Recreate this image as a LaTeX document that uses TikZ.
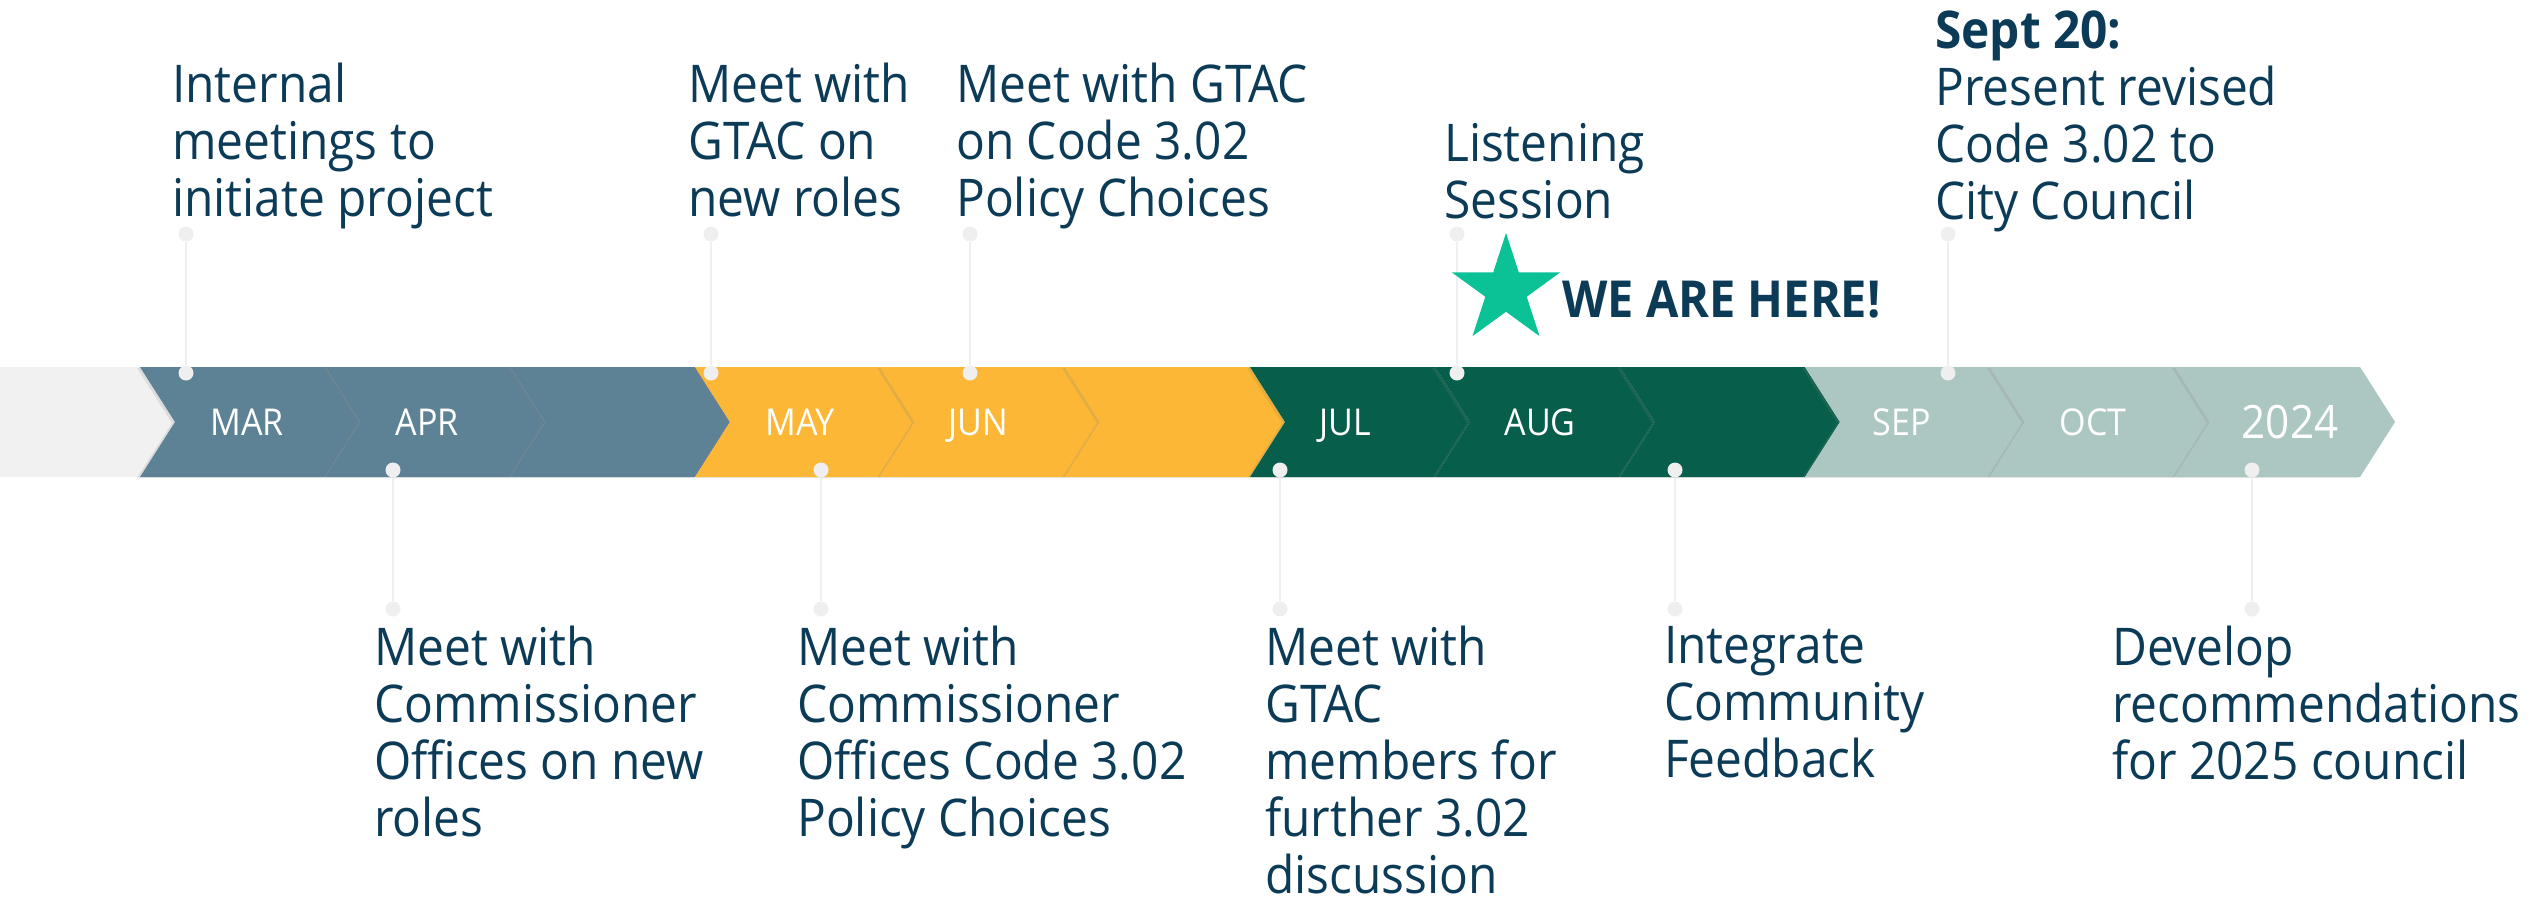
\documentclass[tikz,border=0pt]{standalone}
\usepackage{fontspec}
\setmainfont{Open Sans}[FakeStretch=0.92]
\usepackage{xcolor}
\usepackage{tikz}
\usetikzlibrary{shapes.geometric,shadows}

\definecolor{navy}{HTML}{0B3B57}
\definecolor{slate}{HTML}{5E8295}
\definecolor{amber}{HTML}{FBB735}
\definecolor{pine}{HTML}{065E4B}
\definecolor{sage}{HTML}{ACC6C2}
\definecolor{paper}{HTML}{F1F1F1}
\definecolor{stemgray}{HTML}{EFEFEF}
\definecolor{mint}{HTML}{0BC196}

\begin{document}
\begin{tikzpicture}[
  x=1pt, y=-1pt,
  chev/.style={drop shadow={shadow xshift=-3pt, shadow yshift=-1pt, opacity=.18}},
  month/.style={text=white, inner sep=0pt, text depth=0pt, font=\fontsize{37}{42}\selectfont},
  evt/.style={anchor=north west, align=left, inner sep=0pt, text=navy,
              font=\fontsize{52}{57}\selectfont},
  dot/.style={circle, fill=stemgray, inner sep=0pt, minimum size=15pt},
  stem/.style={draw=stemgray, line width=2.6pt},
]
  \useasboundingbox (0,0) rectangle (2534,900);

  % ---------------- chevron band ----------------
  \fill[paper] (0,367) -- (140,367) -- (175,422) -- (140,477) -- (0,477) -- cycle;
  \foreach \i/\col in {0/slate,1/slate,2/slate,3/amber,4/amber,5/amber,
                       6/pine,7/pine,8/pine,9/sage,10/sage,11/sage}{
    \pgfmathsetmacro\xa{140+185*\i}
    \fill[\col, chev] (\xa,367) -- ++(185,0) -- ++(35,55) -- ++(-35,55)
      -- ++(-185,0) -- ++(35,-55) -- cycle;
  }
  \node[month] (mar) at (247,422) {MAR};
  \node[month] (apr) at (427,422) {APR};
  \node[month] (may) at (800,422) {MAY};
  \node[month] (jun) at (978,422) {JUN};
  \node[month] (jul) at (1345,422) {JUL};
  \node[month] (aug) at (1540,422) {AUG};
  \node[month] (sep) at (1902,422) {SEP};
  \node[month] (oct) at (2093,422) {OCT};
  \node[month, font=\fontsize{46}{50}\selectfont] (yr) at (2290,422) {2024};

  % ---------------- stems above the band ----------------
  \foreach \n/\x in {a/186,b/711,c/970,d/1457,e/1948}{
    \node[dot] (up\n) at (\x,234) {};
    \node[dot] (upband\n) at (\x,373) {};
    \draw[stem] (up\n) -- (upband\n);
  }
  % ---------------- stems below the band ----------------
  \foreach \n/\x in {a/393,b/821,c/1280,d/1675,e/2252}{
    \node[dot] (lowband\n) at (\x,470) {};
    \node[dot] (low\n) at (\x,609) {};
    \draw[stem] (lowband\n) -- (low\n);
  }

  % ---------------- events ----------------
  \node[evt] (internal) at (172,63) {Internal\\meetings to\\initiate project};
  \node[evt] (gtacroles) at (688,63) {Meet with\\GTAC on\\new roles};
  \node[evt] (gtaccode) at (956,63) {Meet with GTAC\\on Code 3.02\\Policy Choices};
  \node[evt] (listen) at (1444,123) {Listening\\Session};
  \node[evt] (council) at (1935,11) {\textbf{Sept 20:}\\Present revised\\Code 3.02 to\\City Council};

  \node[evt] (comroles) at (374,626) {Meet with\\Commissioner\\Offices on new\\roles};
  \node[evt] (comcode) at (797,626) {Meet with\\Commissioner\\Offices Code 3.02\\Policy Choices};
  \node[evt] (members) at (1265,626) {Meet with\\GTAC\\members for\\further 3.02\\discussion};
  \node[evt] (feedback) at (1664,626) {Integrate\\Community\\Feedback};
  \node[evt] (recs) at (2112,626) {Develop\\recommendations\\for 2025 council};

  % ---------------- current position ----------------
  \node[star, star points=5, star point ratio=2.618, fill=mint, inner sep=0pt,
        minimum size=114pt] (here) at (1506,290) {};
  \node[anchor=base west, inner sep=0pt, text=navy,
        font=\fontsize{51}{56}\selectfont\bfseries] (heretext) at (1562,317) {WE ARE HERE!};
\end{tikzpicture}
\end{document}
